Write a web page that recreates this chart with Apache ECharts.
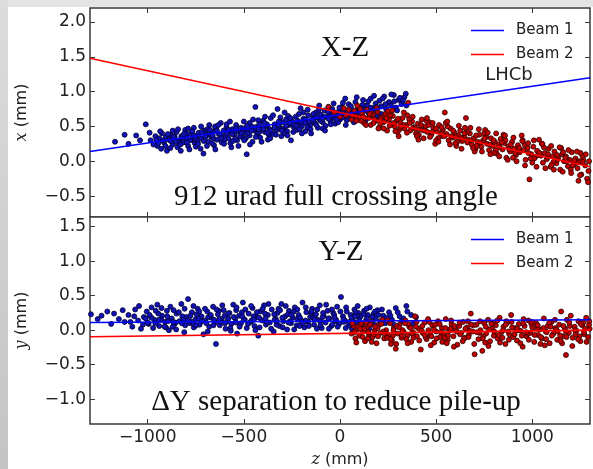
<!DOCTYPE html>
<html>
<head>
<meta charset="utf-8">
<script src="https://cdn.jsdelivr.net/npm/echarts@6/dist/echarts.min.js"></script>
<style>
html,body{margin:0;padding:0;background:#fff;}
#c{width:593px;height:469px;}
</style>
</head>
<body>
<div id="c"></div>
<script>
// ---- tick labels ----
const zTicks = [-1000, -500, 0, 500, 1000];
const xzTicks = [-0.5, 0, 0.5, 1.0, 1.5, 2.0];
const yzTicks = [-1.0, -0.5, 0, 0.5, 1.0, 1.5];

// ---- beam lines (z, value) ----
const beam1XZ = [[-1300, 0.14], [1300, 1.20]];
const beam2XZ = [[-1300, 1.48], [1300, -0.08]];
const beam1YZ = [[-1300, 0.11], [1300, 0.15]];
const beam2YZ = [[-1300, -0.095], [1300, 0.00]];

// ---- vertices, X-Z view, beam 1 ----
const vtx1XZ = [
[-1170,0.28],[-1120,0.38],[-1060,0.37],[-1010,0.53],[-985,0.30],[-960,0.36],[-950,0.22],[-940,0.33],[-930,0.18],[-925,0.40],[-915,0.27],[-905,0.35],[-900,0.15],[-890,0.31],[-880,0.38],[-870,0.24],[-860,0.33],[-850,0.42],[-845,0.20],[-835,0.30],[-825,0.36],[-815,0.27],[-805,0.45],[-800,0.33],[-790,0.22],[-780,0.39],[-770,0.31],[-760,0.48],[-755,0.26],[-745,0.36],[-735,0.41],[-725,0.18],[-720,0.33],[-710,0.11],[-705,0.44],[-695,0.38],[-685,0.28],[-680,0.52],[-670,0.35],[-660,0.42],[-655,0.23],[-645,0.47],[-640,0.31],[-630,0.39],[-620,0.55],[-615,0.27],[-605,0.44],[-600,0.36],[-590,0.49],[-580,0.33],[-575,0.41],[-565,0.20],[-560,0.46],[-550,0.38],[-540,0.52],[-535,0.30],[-525,0.43],[-515,0.48],[-510,0.35],[-500,0.57],[-495,0.41],[-485,0.10],[-480,0.45],[-470,0.37],[-460,0.50],[-455,0.28],[-445,0.44],[-440,0.78],[-430,0.40],[-420,0.53],[-415,0.34],[-405,0.47],[-400,0.58],[-390,0.42],[-380,0.50],[-375,0.31],[-365,0.46],[-360,0.62],[-350,0.39],[-340,0.53],[-330,0.45],[-325,0.75],[-315,0.49],[-305,0.36],[-300,0.56],[-290,0.47],[-280,0.60],[-275,0.43],[-265,0.52],[-255,0.30],[-250,0.58],[-240,0.49],[-230,0.64],[-225,0.45],[-215,0.55],[-205,0.76],[-200,0.50],[-190,0.61],[-180,0.43],[-175,0.57],[-165,0.66],[-155,0.52],[-150,0.40],[-140,0.62],[-130,0.55],[-125,0.70],[-115,0.48],[-105,0.60],[-100,0.67],[-90,0.56],[-80,0.73],[-75,0.51],[-65,0.63],[-55,0.69],[-50,0.58],[-40,0.75],[-30,0.62],[-25,0.54],[-15,0.68],[-5,0.72],[0,0.60],[10,0.78],[20,0.66],[25,0.71],[35,0.59],[45,0.82],[55,0.69],[60,0.74],[70,0.63],[80,0.85],[90,0.72],[100,0.77],[110,0.66],[120,0.88],[130,0.74],[140,0.80],[150,0.69],[160,0.90],[170,0.76],[185,0.83],[195,0.71],[205,0.87],[215,0.79],[230,0.93],[240,0.75],[255,0.85],[265,0.80],[280,0.95],[290,0.77],[305,0.88],[320,0.82],[335,0.92],[345,0.80],
[-880,0.29],[-860,0.36],[-840,0.27],[-820,0.34],[-800,0.40],[-780,0.30],[-760,0.37],[-740,0.29],[-720,0.42],[-700,0.35],[-680,0.40],[-660,0.33],[-640,0.44],[-620,0.38],[-600,0.31],[-580,0.45],[-560,0.39],[-540,0.43],[-520,0.36],[-500,0.47],[-480,0.40],[-460,0.44],[-440,0.49],[-420,0.42],[-400,0.46],[-380,0.53],[-360,0.44],[-340,0.48],[-320,0.52],[-300,0.46],[-280,0.51],[-260,0.55],[-240,0.53],[-220,0.58],[-200,0.56],[-180,0.60],[-160,0.57],[-140,0.59],[-120,0.63],[-100,0.58],[-80,0.64],[-60,0.61],[-40,0.66],[-20,0.64],[0,0.69],[20,0.67],[40,0.70],[60,0.68],[80,0.73],[100,0.70],[120,0.75],[140,0.72],[160,0.77],[180,0.74],[-870,0.44],[-750,0.21],[-650,0.50],[-570,0.26],[-470,0.55],[-370,0.38],[-270,0.65],[-170,0.49],[-60,0.78],[30,0.52],[-830,0.24],[-690,0.46],[-590,0.53],[-490,0.33],[-390,0.64],[-290,0.40],[-190,0.70],[-90,0.47],[15,0.84],[115,0.60],[215,0.68],[-945,0.26],[-790,0.47],[-665,0.26],[-545,0.32],[-425,0.59],[-310,0.63],[-210,0.46],[-110,0.74],[-10,0.56],[90,0.62],[190,0.64]
];
const vtx1XZmore = [
[-1100,0.25],[-1040,0.30],[-990,0.41],[-970,0.24],[-955,0.31],[-935,0.43],[-920,0.30],[-908,0.22],[-895,0.39],[-882,0.19],[-866,0.35],[-853,0.28],[-842,0.46],[-828,0.15],[-812,0.39],[-796,0.27],[-783,0.17],[-768,0.43],[-752,0.34],[-738,0.25],[-722,0.50],[-708,0.29],[-692,0.22],[-676,0.45],[-662,0.37],[-648,0.17],[-633,0.52],[-618,0.33],[-603,0.25],[-588,0.40],[-572,0.57],[-558,0.29],[-542,0.47],[-528,0.22],[-513,0.40],[-498,0.30],[-483,0.51],[-468,0.24],[-452,0.60],[-438,0.35],[-423,0.46],[-408,0.28],[-393,0.55],[-378,0.41],[-363,0.33],[-348,0.66],[-333,0.38],[-318,0.57],[-303,0.44],[-288,0.70],[-273,0.37],[-258,0.62],[-243,0.42],[-228,0.51],[-213,0.68],[-198,0.40],[-183,0.55],[-168,0.74],[-153,0.46],[-138,0.68],[-123,0.52],[-108,0.80],[-93,0.61],[-78,0.44],[-63,0.71],[-48,0.53],[-33,0.83],[-18,0.60],[-3,0.77],[12,0.63],[27,0.90],[42,0.64],[57,0.79],[72,0.56],[87,0.92],[102,0.68],[117,0.81],[132,0.58],[147,0.86],[162,0.66],[177,0.94],[192,0.78],[207,0.61],[222,0.90],[237,0.82],[252,0.70],[267,0.96],[282,0.86],[297,0.73],[312,0.91],[327,0.87],[342,0.97]
];

// ---- vertices, X-Z view, beam 2 ----
const vtx2XZ = [
[-60,0.78],[-30,0.70],[0,0.64],[20,0.76],[40,0.68],[60,0.60],[75,0.72],[90,0.80],[100,0.63],[115,0.69],[125,0.55],[140,0.74],[150,0.62],[160,0.52],[170,0.67],[185,0.58],[195,0.71],[205,0.49],[215,0.63],[225,0.56],[235,0.68],[245,0.44],[255,0.60],[265,0.53],[275,0.65],[285,0.50],[295,0.58],[305,0.36],[315,0.55],[325,0.62],[335,0.47],[345,0.52],[355,0.84],[365,0.44],[375,0.57],[385,0.49],[395,0.40],[405,0.54],[415,0.46],[425,0.60],[435,0.33],[445,0.50],[455,0.42],[465,0.56],[475,0.38],[485,0.48],[495,0.25],[505,0.43],[515,0.52],[525,0.36],[535,0.45],[545,0.70],[555,0.39],[565,0.30],[575,0.47],[585,0.34],[595,0.41],[605,0.22],[615,0.37],[625,0.44],[635,0.29],[645,0.36],[655,0.62],[665,0.31],[675,0.40],[685,0.24],[695,0.33],[705,0.18],[715,0.28],[725,0.38],[735,0.21],[745,0.30],[755,0.45],[765,0.25],[775,0.16],[785,0.33],[795,0.22],[805,0.28],[815,0.11],[825,0.24],[835,0.32],[845,0.17],[855,0.26],[865,0.05],[875,0.21],[885,0.14],[895,0.28],[905,0.18],[915,0.09],[925,0.23],[935,0.13],[945,0.37],[955,0.16],[965,0.02],[975,0.19],[985,-0.26],[995,0.10],[1005,0.21],[1015,0.06],[1025,0.15],[1035,0.31],[1045,0.08],[1055,-0.02],[1065,0.12],[1075,0.03],[1085,0.18],[1095,-0.08],[1105,0.07],[1115,0.14],[1125,-0.03],[1135,0.05],[1145,-0.12],[1155,0.10],[1165,0.00],[1175,0.07],[1185,-0.07],[1195,0.02],[1205,0.13],[1215,-0.04],[1225,0.04],[1235,-0.10],[1245,0.00],[1255,-0.19],[1265,0.03],[1275,-0.06],[1285,-0.25],[1295,0.00],
[30,0.66],[80,0.65],[130,0.62],[180,0.60],[230,0.57],[280,0.55],[330,0.52],[380,0.48],[430,0.45],[480,0.42],[530,0.40],[580,0.36],[630,0.33],[680,0.30],[730,0.27],[780,0.24],[830,0.20],[880,0.17],[930,0.15],[980,0.12],[1030,0.09],[1080,0.06],[1130,0.02],[1180,0.00],[1230,-0.02],[110,0.58],[210,0.54],[310,0.46],[410,0.38],[510,0.33],[610,0.28],[710,0.22],[810,0.16],[910,0.12],[1010,0.04],[1110,-0.01],[1210,-0.06],[160,0.70],[260,0.66],[360,0.60],[460,0.52],[560,0.50],[660,0.42],[760,0.35],[860,0.30],[960,0.24],[1060,0.20],[1160,0.13],[1260,0.08],[200,0.47],[300,0.42],[400,0.36],[500,0.30],[600,0.26],[700,0.14],[800,0.12],[900,0.05],[1000,-0.02],[1100,-0.05],[1200,-0.12],[250,0.72],[350,0.66],[450,0.58],[550,0.55],[650,0.48],[750,0.40],[850,0.38],[950,0.30],[1050,0.25],[1150,0.19],[1250,0.12]
];
const vtx2XZmore = [
[45,0.74],[65,0.66],[85,0.58],[105,0.75],[120,0.64],[135,0.52],[155,0.68],[175,0.55],[190,0.76],[210,0.60],[228,0.47],[242,0.62],[258,0.51],[272,0.73],[288,0.43],[302,0.61],[318,0.50],[332,0.70],[348,0.41],[362,0.55],[378,0.64],[392,0.47],[408,0.31],[422,0.52],[438,0.44],[452,0.62],[468,0.35],[482,0.55],[498,0.47],[512,0.28],[528,0.49],[542,0.36],[558,0.57],[572,0.24],[588,0.44],[602,0.35],[618,0.51],[632,0.18],[648,0.40],[662,0.27],[678,0.48],[692,0.19],[708,0.37],[722,0.46],[738,0.14],[752,0.33],[768,0.41],[782,0.10],[798,0.30],[812,0.40],[828,0.07],[842,0.27],[858,0.37],[872,0.02],[888,0.24],[902,0.34],[918,0.00],[932,0.19],[948,0.29],[962,-0.06],[978,0.26],[992,0.04],[1008,0.30],[1022,-0.08],[1038,0.12],[1052,0.25],[1068,-0.10],[1082,0.10],[1098,0.22],[1112,-0.12],[1128,0.09],[1142,0.20],[1158,-0.15],[1172,0.05],[1188,0.16],[1202,-0.17],[1218,0.01],[1232,0.14],[1248,-0.20],[1262,-0.01],[1278,0.10],[1292,-0.14],[1290,-0.30],[1240,-0.28]
];

// ---- vertices, Y-Z view, beam 1 ----
const vtx1YZ = [
[-1295,0.23],[-1240,0.21],[-1175,0.24],[-1150,0.16],[-1120,0.12],[-1100,0.22],[-1080,0.05],[-1065,0.30],[-1050,0.14],[-1035,0.02],[-1020,0.19],[-1005,0.27],[-995,0.09],[-980,0.33],[-965,0.15],[-950,0.37],[-940,0.06],[-925,0.21],[-910,0.12],[-900,0.28],[-890,0.00],[-875,0.17],[-860,0.09],[-850,0.24],[-835,0.13],[-825,0.38],[-810,-0.03],[-800,0.19],[-790,0.45],[-780,0.10],[-770,0.26],[-760,0.04],[-750,0.16],[-740,0.31],[-730,0.08],[-720,0.20],[-710,-0.06],[-700,0.14],[-690,0.27],[-680,0.05],[-670,0.18],[-660,0.34],[-650,0.11],[-645,-0.20],[-635,0.23],[-625,0.07],[-615,0.16],[-605,0.29],[-595,0.02],[-585,0.13],[-575,0.25],[-565,0.09],[-555,0.37],[-545,0.17],[-535,-0.05],[-525,0.21],[-515,0.10],[-505,0.40],[-495,0.15],[-485,0.03],[-475,0.24],[-465,0.12],[-455,0.32],[-445,0.06],[-435,0.19],[-425,-0.08],[-415,0.27],[-405,0.14],[-395,0.36],[-385,0.08],[-375,0.22],[-365,0.11],[-355,0.30],[-345,-0.02],[-335,0.17],[-325,0.25],[-315,0.06],[-305,0.38],[-295,0.13],[-285,0.20],[-275,0.01],[-265,0.28],[-255,0.10],[-245,0.18],[-235,0.33],[-225,0.07],[-215,0.22],[-205,0.14],[-195,0.40],[-185,0.04],[-175,0.26],[-165,0.12],[-155,0.19],[-145,0.31],[-135,0.08],[-125,0.23],[-115,0.15],[-105,0.36],[-95,0.03],[-85,0.21],[-75,0.11],[-65,0.28],[-55,0.17],[-45,0.06],[-35,0.25],[-25,0.13],[-15,0.34],[-5,0.09],[5,0.48],[15,0.20],[25,0.14],[35,0.27],[45,0.07],[55,0.22],[65,0.16],[75,0.30],[85,0.11],[95,0.25],[105,0.19],[115,0.05],[125,0.28],[135,0.14],[145,0.22],[155,0.33],[165,0.12],[175,0.24],[185,0.17],[195,0.29],[210,0.13],[225,0.21],[240,0.18],[255,0.26],[270,0.15],[290,0.32],[310,0.20],[330,0.17],[350,0.27],[370,0.22],[395,0.19],[-1000,0.11],[-870,0.05],[-820,0.20],
[-960,0.10],[-930,0.16],[-895,0.13],[-855,0.11],[-815,0.15],[-775,0.13],[-735,0.17],[-695,0.10],[-655,0.15],[-620,0.12],[-580,0.17],[-540,0.11],[-500,0.16],[-460,0.14],[-420,0.18],[-380,0.12],[-340,0.15],[-300,0.18],[-260,0.13],[-220,0.16],[-180,0.14],[-140,0.18],[-100,0.13],[-60,0.17],[-20,0.15],[20,0.12],[60,0.18],[100,0.14],[140,0.17],[180,0.08],[-945,0.24],[-905,0.04],[-865,0.29],[-805,0.07],[-745,0.23],[-685,0.19],[-630,0.28],[-570,0.03],[-510,0.26],[-450,0.20],[-390,0.24],[-330,0.08],[-270,0.23],[-210,0.06],[-150,0.24],[-90,0.19],[-30,0.22],[30,0.03],[90,0.21],[150,0.09],[200,0.22],[-980,0.18],[-760,0.09],[-540,0.29],[-320,0.31],[-120,0.02],[80,0.26],[-600,0.21],[-440,0.00],[-240,0.27],[-40,0.08]
];
const vtx1YZmore = [
[-1260,0.16],[-1210,0.27],[-1190,0.09],[-1130,0.29],[-1090,0.12],[-1070,0.20],[-1045,0.35],[-1025,0.08],[-1010,0.17],[-990,0.22],[-972,0.03],[-958,0.28],[-942,0.15],[-928,0.32],[-912,0.05],[-898,0.20],[-882,0.34],[-868,0.12],[-852,0.01],[-838,0.26],[-822,0.10],[-808,0.31],[-792,0.14],[-778,0.21],[-762,0.35],[-748,0.07],[-732,0.27],[-718,0.13],[-702,0.31],[-688,-0.02],[-672,0.22],[-658,0.07],[-642,0.30],[-628,0.16],[-612,0.36],[-598,0.10],[-582,0.24],[-568,-0.01],[-552,0.19],[-538,0.33],[-522,0.05],[-508,0.20],[-492,0.30],[-478,0.09],[-462,0.35],[-448,0.15],[-432,0.26],[-418,0.04],[-402,0.31],[-388,0.17],[-372,0.38],[-358,0.02],[-342,0.23],[-328,0.13],[-312,0.29],[-298,0.04],[-282,0.35],[-268,0.11],[-252,0.22],[-238,0.01],[-222,0.30],[-208,0.18],[-192,0.10],[-178,0.33],[-162,0.06],[-148,0.27],[-132,0.16],[-118,0.30],[-102,0.07],[-88,0.25],[-72,0.37],[-58,0.02],[-42,0.30],[-28,0.18],[-12,0.05],[2,0.27],[18,0.16],[32,0.33],[48,0.12],[62,0.02],[78,0.20],[92,0.35],[108,0.09],[122,0.23],[138,0.31],[152,0.02],[168,0.19],[182,0.27],[198,0.07],[218,0.30],[235,0.10],[262,0.21],[280,0.08],[300,0.26],[320,0.13],[345,0.35],[380,0.10]
];

// ---- vertices, Y-Z view, beam 2 ----
const vtx2YZ = [
[60,-0.05],[70,0.06],[80,-0.12],[90,0.01],[100,-0.08],[110,0.09],[120,-0.02],[130,-0.16],[140,0.04],[150,-0.06],[160,0.12],[170,-0.10],[180,-0.01],[190,-0.19],[200,0.07],[210,-0.04],[220,0.15],[230,-0.12],[240,0.00],[250,-0.07],[260,0.10],[270,-0.15],[280,0.03],[290,-0.27],[300,-0.05],[310,0.08],[320,-0.11],[330,-0.02],[340,0.14],[350,-0.08],[360,0.05],[370,-0.17],[380,-0.03],[390,0.20],[400,-0.09],[410,0.02],[420,-0.28],[430,-0.04],[440,0.11],[450,-0.13],[460,0.00],[470,-0.07],[480,0.07],[490,-0.18],[500,-0.02],[510,0.13],[520,-0.10],[530,0.03],[540,-0.06],[550,0.16],[560,-0.14],[570,-0.01],[580,0.09],[590,-0.09],[600,0.01],[610,-0.21],[620,0.06],[630,-0.04],[640,0.12],[650,-0.11],[660,0.04],[670,-0.07],[680,0.24],[690,-0.02],[700,-0.35],[710,0.08],[720,-0.13],[730,0.00],[740,-0.30],[750,0.10],[760,-0.05],[770,0.15],[780,-0.16],[790,0.02],[800,-0.08],[810,0.07],[820,-0.12],[830,0.18],[840,-0.03],[850,0.05],[860,-0.20],[870,0.11],[880,-0.06],[890,0.22],[900,-0.10],[910,0.03],[920,-0.15],[930,0.09],[940,-0.01],[950,-0.24],[960,0.06],[970,-0.09],[980,0.14],[990,-0.04],[1000,0.04],[1010,-0.17],[1020,0.10],[1030,-0.07],[1040,0.01],[1050,-0.12],[1060,0.17],[1070,-0.02],[1080,0.06],[1090,-0.19],[1100,0.12],[1110,-0.05],[1120,0.03],[1130,-0.14],[1140,0.08],[1150,0.27],[1160,-0.09],[1170,0.02],[1175,-0.36],[1180,0.15],[1190,-0.04],[1200,0.21],[1210,-0.11],[1220,0.05],[1230,-0.01],[1240,0.13],[1250,-0.16],[1260,0.07],[1270,-0.06],[1280,0.18],[1290,-0.10],[1298,0.02],
[75,-0.03],[125,0.02],[175,-0.06],[225,-0.02],[275,-0.08],[325,0.00],[375,-0.05],[425,-0.01],[475,-0.09],[525,-0.03],[575,0.02],[625,-0.06],[675,-0.01],[725,-0.04],[775,0.01],[825,-0.07],[875,-0.02],[925,0.00],[975,-0.05],[1025,0.02],[1075,-0.03],[1125,0.01],[1175,-0.02],[1225,-0.06],[1275,0.02],[95,0.05],[145,-0.12],[195,0.03],[245,-0.11],[295,0.06],[345,-0.13],[395,0.05],[445,-0.10],[495,0.08],[545,-0.11],[595,0.06],[645,-0.12],[695,0.07],[745,-0.09],[795,0.10],[845,-0.11],[895,0.04],[945,-0.08],[995,0.09],[1045,-0.10],[1095,0.05],[1145,-0.08],[1195,0.06],[1245,-0.09],[1295,0.08],[155,0.08],[355,0.09],[555,-0.19],[755,-0.18],[955,0.16],[1155,-0.19],[265,-0.20],[465,0.12],[665,0.13],[865,0.13],[1065,-0.22],[1265,0.11]
];
const vtx2YZmore = [
[65,0.10],[85,-0.18],[105,0.02],[118,-0.10],[135,0.11],[148,-0.03],[165,-0.17],[182,0.05],[198,-0.09],[215,0.09],[232,-0.05],[248,0.14],[262,-0.13],[278,0.00],[292,-0.20],[308,0.04],[322,-0.08],[338,0.10],[352,-0.19],[368,0.03],[382,-0.11],[398,0.12],[412,-0.15],[428,0.06],[442,-0.07],[458,0.16],[472,-0.22],[488,0.01],[502,-0.12],[518,0.09],[532,-0.17],[548,0.03],[562,-0.08],[578,0.14],[592,-0.24],[608,-0.02],[622,0.11],[638,-0.16],[652,0.02],[668,-0.10],[682,0.08],[698,-0.20],[712,-0.03],[728,0.13],[742,-0.12],[758,0.05],[772,-0.23],[788,0.09],[802,-0.02],[818,0.14],[832,-0.18],[848,0.00],[862,0.08],[878,-0.14],[892,0.12],[908,-0.06],[922,0.02],[938,-0.19],[952,0.10],[968,-0.03],[982,-0.14],[998,0.12],[1012,-0.07],[1028,0.07],[1042,-0.20],[1058,0.03],[1072,-0.13],[1088,0.11],[1102,-0.08],[1118,0.15],[1132,-0.02],[1148,-0.16],[1162,0.06],[1178,-0.10],[1192,0.11],[1208,-0.23],[1222,0.00],[1238,-0.13],[1252,0.09],[1268,-0.03],[1282,-0.17],[1296,0.13]
];

const SANS = 'DejaVu Sans';
const SERIF = 'Liberation Serif';
const INK = '#222';
const FRAME = '#3a3a3a';

const fmtNum = v => (v < 0 ? '\u2212' : '') + Math.abs(v).toFixed(1);
const fmtInt = v => (v < 0 ? '\u2212' : '') + Math.abs(v);

function zAxis(grid, pos, labels) {
  const a = {
    gridIndex: grid, type: 'value', position: pos, min: -1300, max: 1300,
    axisLine: {show: false, onZero: false}, splitLine: {show: false},
    axisTick: {show: true, inside: true, length: 5, customValues: zTicks, lineStyle: {color: FRAME, width: 1}},
    axisLabel: {show: labels, customValues: zTicks, formatter: fmtInt, fontFamily: SANS, fontSize: 17, color: INK, margin: 5}
  };
  if (labels) {
    a.name = '{i|z} (mm)';
    a.nameLocation = 'middle';
    a.nameGap = 28;
    a.nameTextStyle = {fontFamily: SANS, fontSize: 16, color: INK, rich: {i: {fontFamily: 'DejaVu Serif', fontStyle: 'italic', fontSize: 16, color: INK}}};
  }
  return a;
}
function vAxis(grid, pos, labels, min, max, ticks, letter) {
  const a = {
    gridIndex: grid, type: 'value', position: pos, min: min, max: max,
    axisLine: {show: false, onZero: false}, splitLine: {show: false},
    axisTick: {show: true, inside: true, length: 5, customValues: ticks, lineStyle: {color: FRAME, width: 1}},
    axisLabel: {show: labels, customValues: ticks, formatter: fmtNum, fontFamily: SANS, fontSize: 17, color: INK, margin: 4}
  };
  if (labels) {
    a.name = '{i|' + letter + '} (mm)';
    a.nameLocation = 'middle';
    a.nameGap = 60;
    a.nameRotate = 90;
    a.nameTextStyle = {fontFamily: SANS, fontSize: 16, color: INK, rich: {i: {fontFamily: 'DejaVu Serif', fontStyle: 'italic', fontSize: 16, color: INK}}};
  }
  return a;
}

function dots(name, data, xi, yi, fill, edge) {
  return {name: name, type: 'scatter', xAxisIndex: xi, yAxisIndex: yi, data: data, symbolSize: 5,
    itemStyle: {color: fill, borderColor: edge, borderWidth: 0.8, opacity: 1}, z: 2, silent: true, animation: false};
}
function beam(name, data, xi, yi, color) {
  return {name: name, type: 'line', xAxisIndex: xi, yAxisIndex: yi, data: data, symbol: 'none', showSymbol: false,
    lineStyle: {color: color, width: 1.6}, itemStyle: {color: color}, z: 5, silent: true, animation: false};
}
function legend(top) {
  return {show: true, data: ['Beam 1', 'Beam 2'], orient: 'vertical', left: 471, top: top, padding: 0,
    icon: 'rect', itemWidth: 33, itemHeight: 1.6, itemGap: 9, selectedMode: false,
    textStyle: {fontFamily: SANS, fontSize: 15, lineHeight: 14, color: INK, padding: [0, 0, 0, 7]}};
}
function txt(x, y, s, font, size) {
  return {type: 'text', x: x, y: y, z: 20, silent: true,
    style: {text: s, fontFamily: font, fontSize: size, fill: '#111', align: 'center', verticalAlign: 'middle'}};
}

const chart = echarts.init(document.getElementById('c'), null, {renderer: 'canvas'});
chart.setOption({
  backgroundColor: '#ffffff',
  animation: false,
  grid: [
    {left: 90, top: 8, width: 500, height: 209, show: true, borderColor: FRAME, borderWidth: 1.5, backgroundColor: '#fff'},
    {left: 90, top: 217, width: 500, height: 210, show: true, borderColor: FRAME, borderWidth: 1.5, backgroundColor: '#fff'}
  ],
  xAxis: [zAxis(0, 'bottom', false), zAxis(1, 'bottom', true), zAxis(0, 'top', false), zAxis(1, 'top', false)],
  yAxis: [
    vAxis(0, 'left', true, -0.8, 2.2, xzTicks, 'x'),
    vAxis(1, 'left', true, -1.36, 1.64, yzTicks, 'y'),
    vAxis(0, 'right', false, -0.8, 2.2, xzTicks, 'x'),
    vAxis(1, 'right', false, -1.36, 1.64, yzTicks, 'y')
  ],
  legend: [legend(23), legend(232)],
  series: [
    dots('Beam 1 X-Z vertices', vtx1XZ.concat(vtx1XZmore), 0, 0, '#1212b8', '#000030'),
    dots('Beam 2 X-Z vertices', vtx2XZ.concat(vtx2XZmore), 0, 0, '#c00000', '#300000'),
    dots('Beam 1 Y-Z vertices', vtx1YZ.concat(vtx1YZmore), 1, 1, '#1212b8', '#000030'),
    dots('Beam 2 Y-Z vertices', vtx2YZ.concat(vtx2YZmore), 1, 1, '#c00000', '#300000'),
    beam('Beam 1', beam1XZ, 0, 0, '#0000ff'),
    beam('Beam 2', beam2XZ, 0, 0, '#ff0000'),
    beam('Beam 1', beam1YZ, 1, 1, '#0000ff'),
    beam('Beam 2', beam2YZ, 1, 1, '#ff0000')
  ],
  graphic: [
    {type: 'rect', shape: {x: 0, y: 0, width: 593, height: 7}, style: {fill: '#e4e4e4'}, z: 0, silent: true},
    {type: 'rect', shape: {x: 0, y: 0, width: 8, height: 469}, silent: true, z: 0,
      style: {fill: new echarts.graphic.LinearGradient(0, 0, 0, 1, [{offset: 0, color: '#dcdcdc'}, {offset: 1, color: '#c4c4c4'}])}},
    txt(345, 48, 'X-Z', SERIF, 29),
    txt(336, 197, '912 urad full crossing angle', SERIF, 29),
    txt(341, 252, 'Y-Z', SERIF, 29),
    txt(336, 402, '\u0394Y separation to reduce pile-up', SERIF, 29),
    {type: 'text', x: 509, y: 75, z: 20, silent: true, style: {text: 'LHCb', fontFamily: SANS, fontSize: 18, fill: INK, align: 'center', verticalAlign: 'middle'}}
  ]
});
</script>
</body>
</html>
